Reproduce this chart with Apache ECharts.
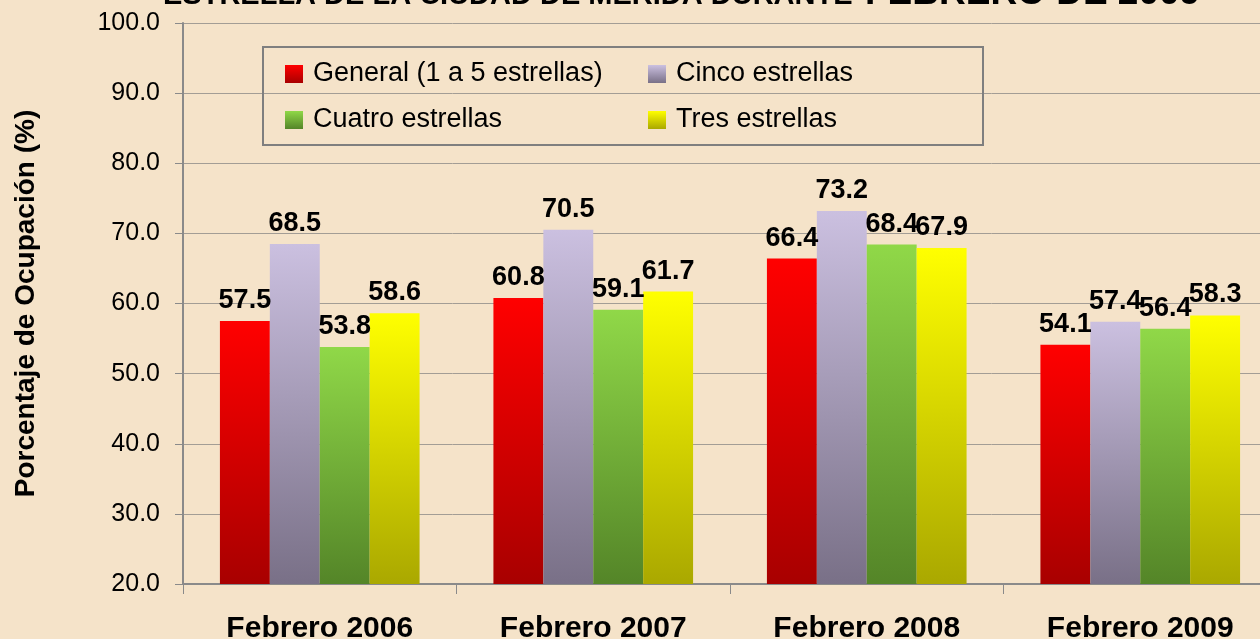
<!DOCTYPE html>
<html>
<head>
<meta charset="utf-8">
<script src="https://cdn.jsdelivr.net/npm/echarts@6/dist/echarts.min.js"></script>
<style>
  html, body { margin: 0; padding: 0; background: #f5e3c9; }
  #chart { width: 1260px; height: 639px; }
</style>
</head>
<body>
<div id="chart"></div>
<script>
// datos
const categories = ['Febrero 2006', 'Febrero 2007', 'Febrero 2008', 'Febrero 2009'];
const seriesNames = ['General (1 a 5 estrellas)', 'Cinco estrellas', 'Cuatro estrellas', 'Tres estrellas'];
const generalData = [57.5, 60.8, 66.4, 54.1];
const cincoData = [68.5, 70.5, 73.2, 57.4];
const cuatroData = [53.8, 59.1, 68.4, 56.4];
const tresData = [58.6, 61.7, 67.9, 58.3];
const yMin = 20;
const yMax = 100;
const yStep = 10;

const font = 'Arial, "Liberation Sans", sans-serif';

const grad = (top, bottom) =>
  new echarts.graphic.LinearGradient(0, 0, 0, 1, [
    { offset: 0, color: top },
    { offset: 1, color: bottom }
  ]);

const colors = [
  grad('#ff0000', '#a80000'),
  grad('#cbc0e0', '#797087'),
  grad('#90d848', '#548528'),
  grad('#ffff00', '#aaa800')
];

const values = [generalData, cincoData, cuatroData, tresData];

const chart = echarts.init(document.getElementById('chart'));

const series = seriesNames.map((name, i) => ({
  name: name,
  type: 'bar',
  data: values[i],
  barGap: '0%',
  barCategoryGap: '27%',
  itemStyle: { color: colors[i] },
  label: {
    show: true,
    position: 'top',
    distance: 7,
    color: '#000',
    fontFamily: font,
    fontWeight: 'bold',
    fontSize: 27,
    formatter: (p) => p.value.toFixed(1)
  },
  labelLayout: { hideOverlap: false }
}));

chart.setOption({
  backgroundColor: '#f5e3c9',
  animation: false,
  grid: {
    left: 183,
    top: 23,
    width: 1094,
    height: 561,
    outerBoundsMode: 'none'
  },
  legend: {
    data: seriesNames,
    left: 285,
    top: 56,
    width: 760,
    padding: 0,
    itemGap: 10,
    itemWidth: 18,
    itemHeight: 18,
    icon: 'rect',
    textStyle: {
      fontFamily: font,
      fontSize: 27,
      color: '#000',
      width: 325,
      lineHeight: 36,
      padding: [0, 0, 0, 5]
    }
  },
  graphic: [
    {
      type: 'rect',
      shape: { x: 263, y: 47, width: 720, height: 98 },
      style: { fill: 'none', stroke: '#7f7f7f', lineWidth: 2 },
      z: 5
    },
    {
      type: 'text',
      x: 163,
      y: -4,
      style: {
        text: 'ESTRELLA DE LA CIUDAD DE MERIDA DURANTE',
        font: 'bold 29px Arial, "Liberation Sans", sans-serif',
        fill: '#000',
        textAlign: 'left',
        textVerticalAlign: 'middle'
      }
    },
    {
      type: 'text',
      x: 865,
      y: -6,
      style: {
        text: 'FEBRERO DE 2009',
        font: 'bold 37px Arial, "Liberation Sans", sans-serif',
        fill: '#000',
        textAlign: 'left',
        textVerticalAlign: 'middle'
      }
    }
  ],
  xAxis: {
    type: 'category',
    data: categories,
    axisLine: { lineStyle: { color: '#8a8a8a', width: 2 } },
    axisTick: { show: true, length: 10, lineStyle: { color: '#8a8a8a' } },
    axisLabel: {
      margin: 30,
      color: '#000',
      fontFamily: font,
      fontWeight: 'bold',
      fontSize: 30
    }
  },
  yAxis: {
    type: 'value',
    min: yMin,
    max: yMax,
    interval: yStep,
    name: 'Porcentaje de Ocupación (%)',
    nameLocation: 'middle',
    nameGap: 143,
    nameTextStyle: {
      color: '#000',
      fontFamily: font,
      fontWeight: 'bold',
      fontSize: 28
    },
    axisLine: { show: true, lineStyle: { color: '#8a8a8a', width: 2 } },
    axisTick: { show: true, length: 8, lineStyle: { color: '#8a8a8a' } },
    axisLabel: {
      margin: 23,
      color: '#000',
      fontFamily: font,
      fontSize: 25,
      formatter: (v) => v.toFixed(1)
    },
    splitLine: { lineStyle: { color: '#a39d95', width: 1 } }
  },
  series: series
});
</script>
</body>
</html>
